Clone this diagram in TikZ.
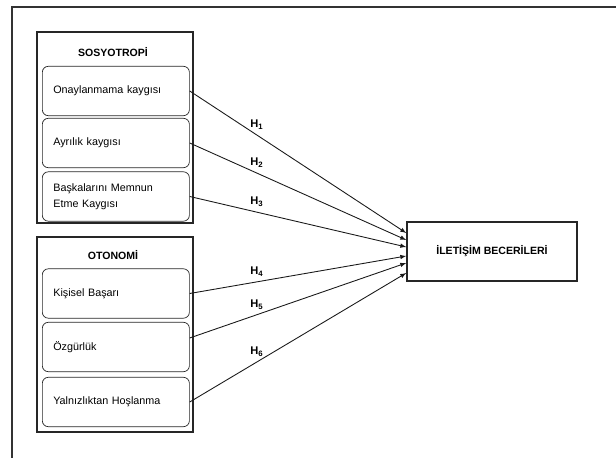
\documentclass[tikz,border=0pt]{standalone}
\usepackage{fontspec}
\setmainfont{Liberation Sans}
\usetikzlibrary{arrows}
\usetikzlibrary{calc}

\begin{document}
\begin{tikzpicture}[x=0.03cm,y=-0.03cm,
        group/.style={draw=black!85,line width=1.6pt},
        item/.style={draw=black!85,line width=0.6pt,rounded corners=5pt,anchor=west,
                minimum width=4.41cm,minimum height=1.48cm,inner xsep=0.33cm,
                text width=3.75cm,align=left,font=\fontsize{9.2}{14}\selectfont},
        title/.style={font=\bfseries\fontsize{9}{10}\selectfont},
        hyp/.style={font=\bfseries\fontsize{9.5}{10}\selectfont,above=1pt,pos=.31},
        link/.style={-latex,line width=0.75pt,draw=black!90}]
        \useasboundingbox (0,0) rectangle (616,458);
        \draw[black!80,line width=1.1pt] (616,7) -- (12,7) -- (12,458);

        % sosyotropi
        \draw[group] (37,32) rectangle (193,223);
        \node[title] (sos) at (113,52) {SOSYOTROPİ};
        \node[item] (onay) at (42,91) {Onaylanmama kaygısı};
        \node[item] (ayr) at (42,143) {Ayrılık kaygısı};
        \node[item] (memnun) at (42,196.5) {Başkalarını Memnun\\Etme Kaygısı};

        % otonomi
        \draw[group] (37,237) rectangle (193,432);
        \node[title] (oto) at (113,255) {OTONOMİ};
        \node[item] (basari) at (42,293.5) {Kişisel Başarı};
        \node[item] (ozg) at (42,347) {Özgürlük};
        \node[item] (yaln) at (42,402) {Yalnızlıktan Hoşlanma};

        \node[draw=black!85,line width=1.3pt,minimum width=5.1cm,minimum height=1.77cm,
                font=\bfseries\fontsize{9}{11}\selectfont] (iletisim) at (492,251.5) {İLETİŞİM BECERİLERİ};

        \draw[link] (onay.east) -- node[hyp] (h1) {H\textsubscript{1}} ($(iletisim.west)+(0,-18.5)$);
        \draw[link] (ayr.east) -- node[hyp] (h2) {H\textsubscript{2}} ($(iletisim.west)+(0,-11.5)$);
        \draw[link] (memnun.east) -- node[hyp] (h3) {H\textsubscript{3}} ($(iletisim.west)+(0,-4.5)$);
        \draw[link] (basari.east) -- node[hyp] (h4) {H\textsubscript{4}} ($(iletisim.west)+(0,4.5)$);
        \draw[link] ([yshift=7.7pt]ozg.east) -- node[hyp] (h5) {H\textsubscript{5}} ($(iletisim.west)+(0,11.5)$);
        \draw[link] (yaln.east) -- node[hyp] (h6) {H\textsubscript{6}} ($(iletisim.west)+(0,21.5)$);
\end{tikzpicture}
\end{document}
